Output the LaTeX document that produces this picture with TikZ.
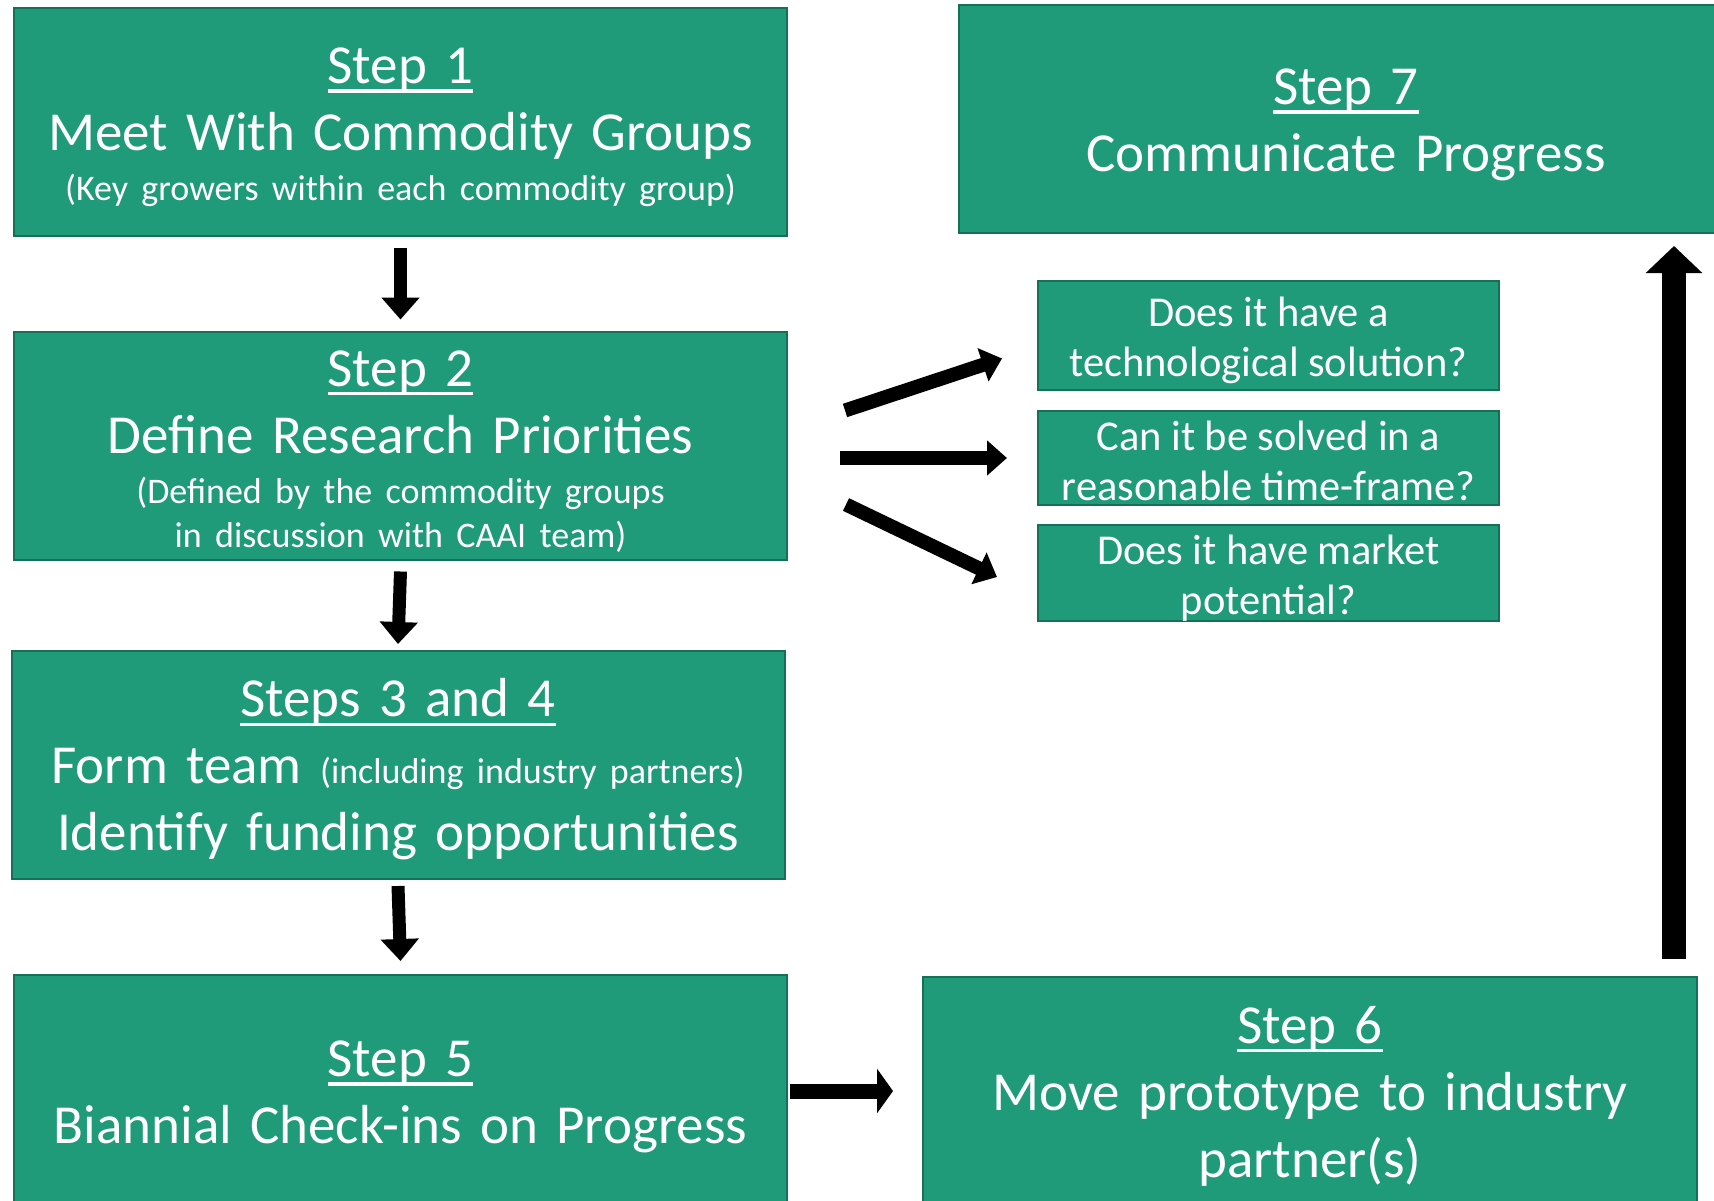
\documentclass[tikz,border=0pt]{standalone}
\usepackage{fontspec}
\setmainfont{Carlito}
\usetikzlibrary{arrows.meta}
\definecolor{stepgreen}{RGB}{31,155,122}
\definecolor{stepedge}{RGB}{22,112,86}
\newcommand{\steplabel}[1]{\setbox0=\hbox{#1}\rlap{\rule[-0.17em]{\wd0}{0.065em}}\box0}
\newcommand{\notefont}{\fontsize{36}{44}\selectfont\spaceskip=0.37em\relax}

\begin{document}
\begin{tikzpicture}[x=1pt, y=-1pt,
    stepbox/.style={rectangle, draw=stepedge, line width=2pt, fill=stepgreen, text=white,
        execute at begin node=\centering, inner sep=0pt, minimum width=773pt,
        minimum height=228pt, text width=765pt, text height=47pt,
        font=\fontsize{55}{67}\selectfont},
    askbox/.style={stepbox, minimum width=461pt, text width=455pt, text height=39pt,
        font=\fontsize{42.5}{50}\selectfont,
        execute at begin node={\centering\spaceskip=0.22em\relax}},
    downarrow/.style={draw, line width=13pt, -{Triangle[length=22pt, width=37pt]}},
    sidearrow/.style={draw, line width=15pt, -{Triangle[length=16pt, width=44pt]}},
    askarrow/.style={draw, line width=14pt, -{Triangle[length=20pt, width=34pt]}},
    uparrow/.style={draw, line width=24pt, -{Triangle[length=27pt, width=55pt]}}]
\useasboundingbox (0,0) rectangle (1714,1200);

% left column
\node[stepbox] (step1) at (400.5,121.5) {\steplabel{Step 1}\par
    Meet With Commodity Groups\par\vspace{6pt}
    \notefont (Key growers within each commodity group)\par};
\node[stepbox] (step2) at (400.5,445.5) {\steplabel{Step 2}\par
    Define Research Priorities\par\vspace{6pt}
    \notefont (Defined by the commodity groups\par
    in discussion with CAAI team)\par};
\node[stepbox] (step34) at (398,765) {\steplabel{Steps 3 and 4}\par
    Form team {\notefont (including industry partners)}\par
    Identify funding opportunities\par};
\node[stepbox, minimum height=232pt] (step5) at (400.5,1091) {\steplabel{Step 5}\par
    Biannial Check-ins on Progress\par};

% right column
\node[stepbox, minimum width=774pt] (step6) at (1310,1091) {\steplabel{Step 6}\par
    Move prototype to industry\par partner(s)\par};
\node[stepbox, minimum width=774pt] (step7) at (1346,119) {\steplabel{Step 7}\par
    Communicate Progress\par};
\node[askbox, minimum height=109pt] (ask1) at (1268.5,335.5) {Does it have a\par
    technological solution?\par};
\node[askbox, minimum height=94pt, text height=35pt] (ask2) at (1268.5,458) {Can it be solved in a\par
    reasonable time-frame?\par};
\node[askbox, minimum height=96pt] (ask3) at (1268.5,573) {Does it have market\par
    potential?\par};

% arrows
\draw[downarrow] ([yshift=-11pt]step1.south) -- ([yshift=11pt]step2.north);
\draw[downarrow] ([yshift=-11pt]step2.south) -- ([yshift=6pt]step34.north);
\draw[downarrow] ([yshift=-6pt]step34.south) -- ([yshift=13pt]step5.north);
\draw[sidearrow] ([xshift=2pt]step5.east) -- ([xshift=-29pt]step6.west);
\draw[uparrow] ([xshift=-24pt,yshift=17pt]step6.north east)
    -- ([xshift=-24pt,yshift=-12pt]step6.north east |- step7.south);
\draw[askarrow] ([xshift=57pt,yshift=35pt]step2.east) -- ([xshift=-35pt,yshift=-23pt]ask1.west);
\draw[askarrow] ([xshift=52pt,yshift=-12.5pt]step2.east) -- ([xshift=-30pt]ask2.west);
\draw[askarrow] ([xshift=58pt,yshift=-59pt]step2.east) -- ([xshift=-40pt,yshift=-4pt]ask3.west);
\end{tikzpicture}
\end{document}
